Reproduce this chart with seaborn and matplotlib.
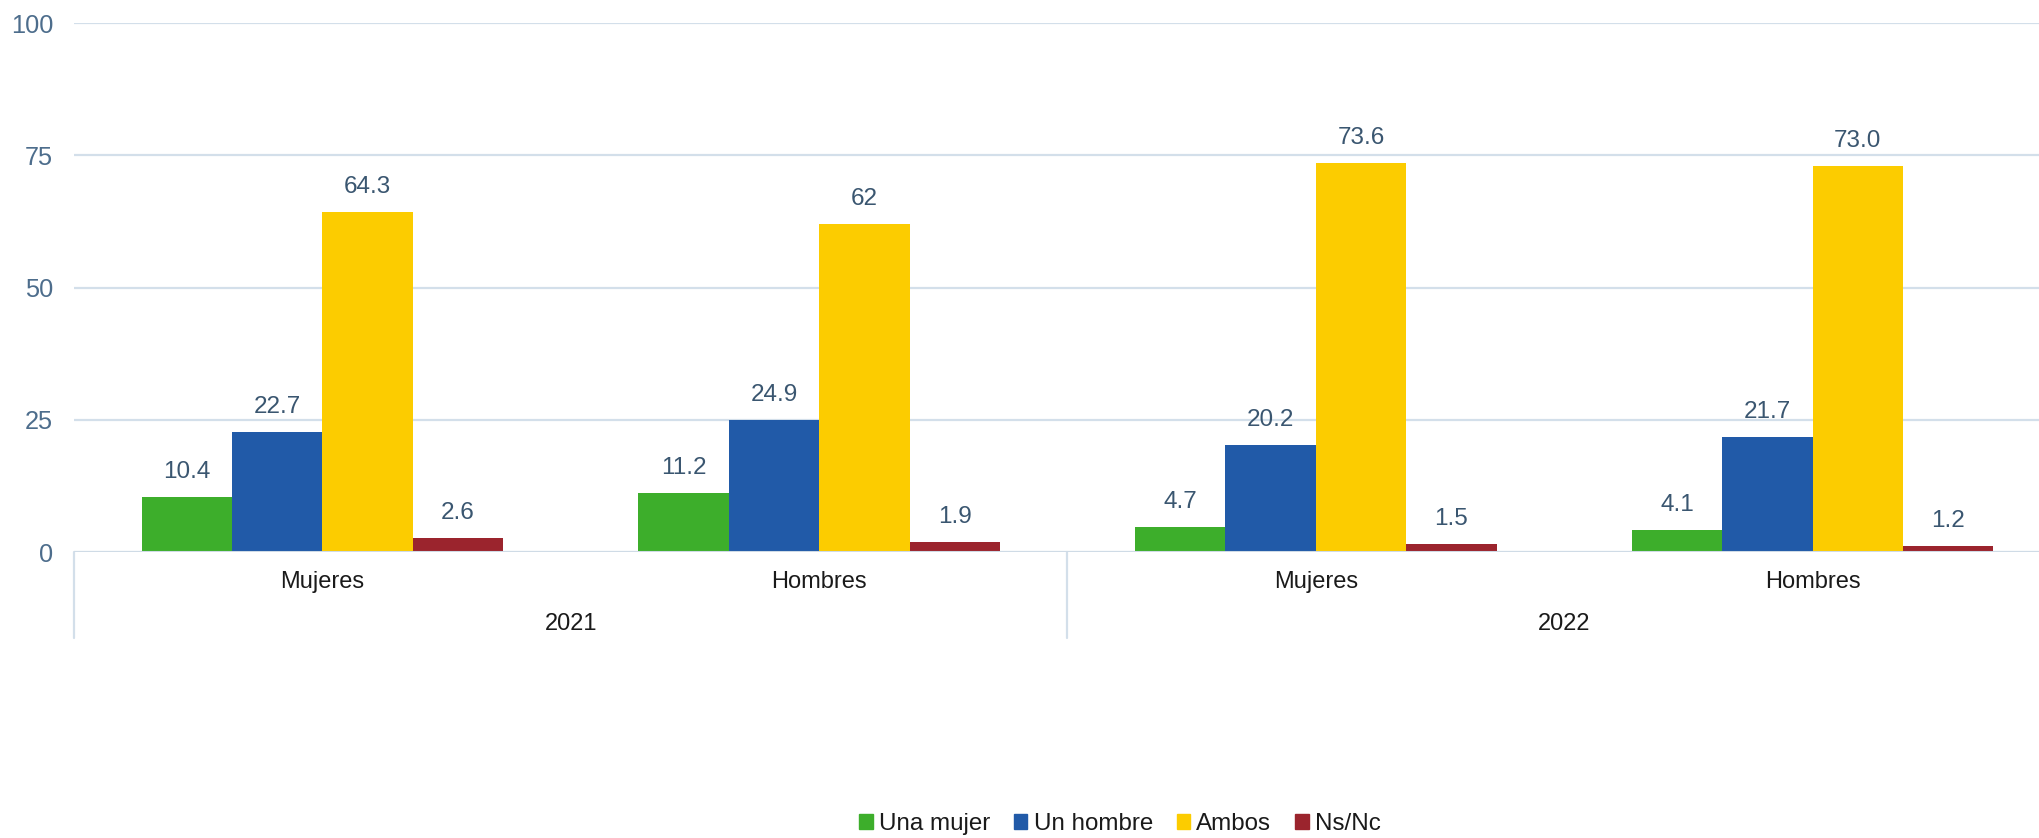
import matplotlib
matplotlib.use("Agg")
import matplotlib.pyplot as plt
import seaborn as sns
import pandas as pd

# ---- data ----
years = ["2021", "2021", "2022", "2022"]
sexes = ["Mujeres", "Hombres", "Mujeres", "Hombres"]
series = ["Una mujer", "Un hombre", "Ambos", "Ns/Nc"]
una_mujer = [10.4, 11.2, 4.7, 4.1]
un_hombre = [22.7, 24.9, 20.2, 21.7]
ambos = [64.3, 62.0, 73.6, 73.0]
ns_nc = [2.6, 1.9, 1.5, 1.2]
una_mujer_lbl = ["10.4", "11.2", "4.7", "4.1"]
un_hombre_lbl = ["22.7", "24.9", "20.2", "21.7"]
ambos_lbl = ["64.3", "62", "73.6", "73.0"]
ns_nc_lbl = ["2.6", "1.9", "1.5", "1.2"]
y_ticks = [0, 25, 50, 75, 100]

colors = ["#3dae2b", "#215aa8", "#fccc00", "#9b242d"]

sns.set_theme(style="white")
plt.rcParams["font.family"] = ["Liberation Sans", "DejaVu Sans"]

keys = [f"{y} {s}" for y, s in zip(years, sexes)]
rows = []
for name, vals in zip(series, [una_mujer, un_hombre, ambos, ns_nc]):
    for k, v in zip(keys, vals):
        rows.append({"cat": k, "serie": name, "valor": v})
df = pd.DataFrame(rows)

fig = plt.figure(figsize=(20.4, 8.38), dpi=100)
ax = fig.add_axes([74 / 2040, 1 - 552 / 838, (2061 - 74) / 2040, (552 - 23) / 838])

sns.barplot(data=df, x="cat", y="valor", hue="serie", order=keys,
            hue_order=series, palette=colors, width=0.728, gap=0,
            saturation=1, ax=ax, legend=False, linewidth=0)

label_lists = [una_mujer_lbl, un_hombre_lbl, ambos_lbl, ns_nc_lbl]
for cont, lbls in zip(ax.containers, label_lists):
    ax.bar_label(cont, labels=lbls, padding=10, fontsize=17.5, color="#3a5670")

ax.set_ylim(0, 100)
ax.set_xlim(-0.5, 3.5)
ax.set_yticks(y_ticks)
ax.set_yticklabels([str(t) for t in y_ticks])
ax.tick_params(axis="y", length=0, pad=15, labelsize=18.3, labelcolor="#4d6d8c")
ax.set_xticks([])
ax.set_xlabel("")
ax.set_ylabel("")
for s in ["top", "right", "left", "bottom"]:
    ax.spines[s].set_visible(False)

for t in y_ticks:
    ax.axhline(t, color="#d3dfea", lw=1.6, zorder=0)
ax.axhline(0, color="#cfdbe6", lw=2.2, zorder=3)

xt = ax.get_xaxis_transform()
plot_h = 552 - 23
for xb in [-0.5, 1.5]:
    ax.plot([xb, xb], [0, -(638 - 552) / plot_h], transform=xt,
            color="#d3dfea", lw=1.6, clip_on=False)

for i, s in enumerate(sexes):
    ax.text(i, -(582 - 552) / plot_h, s, transform=xt, ha="center",
            va="center", fontsize=17, color="#1a1a1a")
for xc, y in [(0.5, "2021"), (2.5, "2022")]:
    ax.text(xc, -(624 - 552) / plot_h, y, transform=xt, ha="center",
            va="center", fontsize=17, color="#1a1a1a")

handles = [plt.Rectangle((0, 0), 1, 1, color=c) for c in colors]
fig.legend(handles, series, loc="center", bbox_to_anchor=(0.549, 1 - 824 / 838),
           ncol=4, frameon=False, fontsize=17.4, handlelength=0.55,
           handleheight=0.55, handletextpad=0.25, columnspacing=1.0,
           labelcolor="#1a1a1a")

fig.savefig("out.png", dpi=100)
